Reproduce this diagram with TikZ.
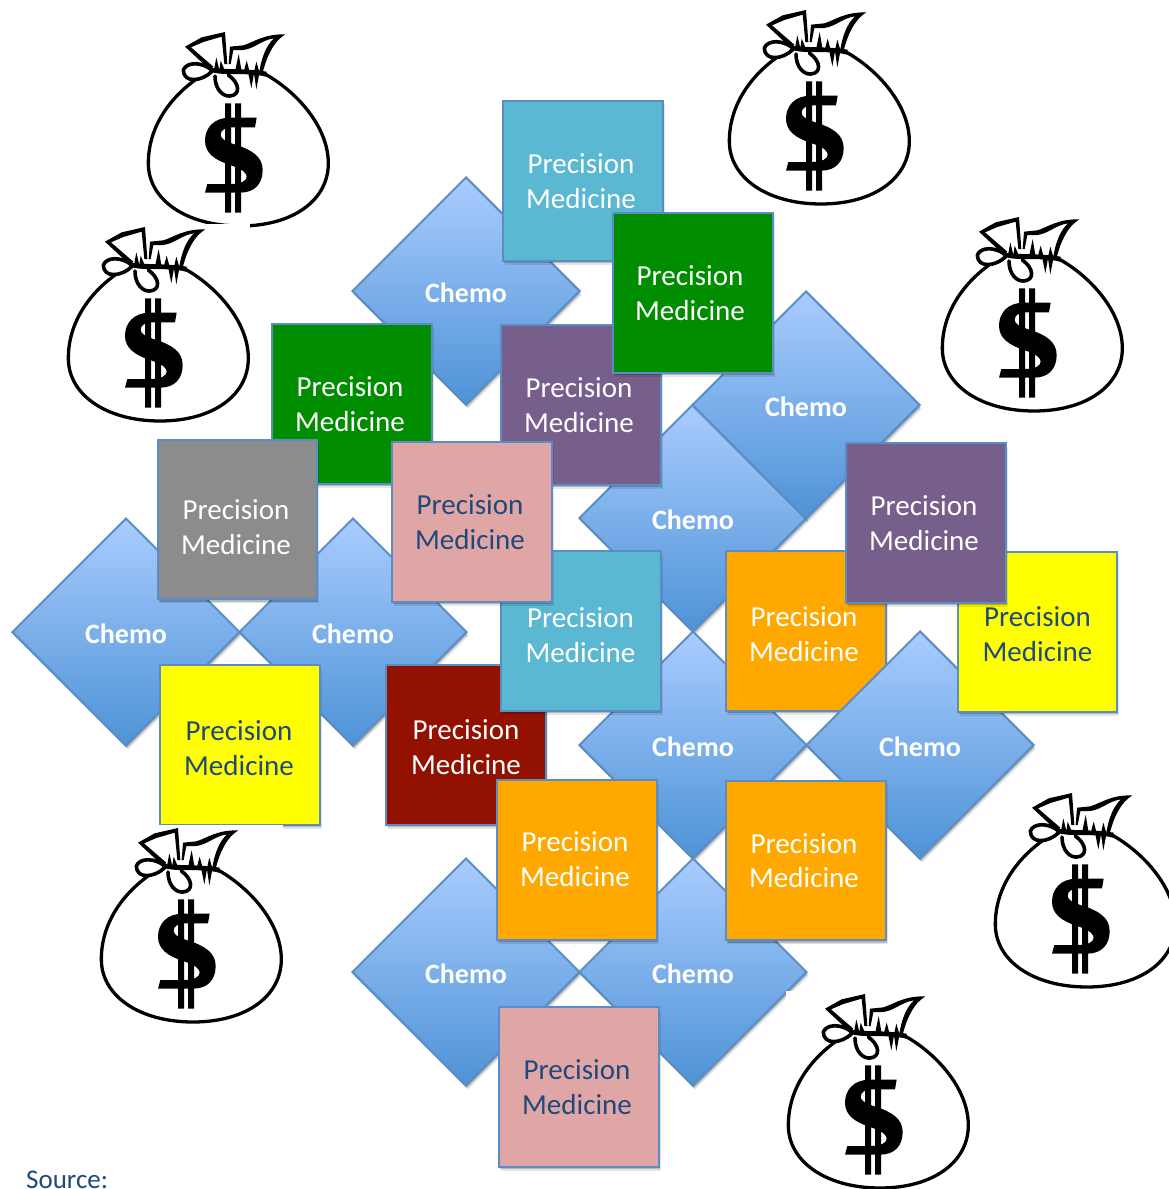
\documentclass[tikz,border=0pt]{standalone}
\usepackage{fontspec}
\setmainfont{Carlito}
\usetikzlibrary{shapes.geometric,shadows}
\definecolor{edgeblue}{HTML}{5B8DC4}
\definecolor{navytext}{HTML}{1F497D}
\definecolor{pmcyan}{HTML}{5BB8D2}
\definecolor{pmgreen}{HTML}{008E00}
\definecolor{pmpurple}{HTML}{775F8C}
\definecolor{pmgray}{HTML}{8C8C8C}
\definecolor{pmpink}{HTML}{E0A6A5}
\definecolor{pmorange}{HTML}{FFA900}
\definecolor{pmyellow}{HTML}{FFFF00}
\definecolor{pmred}{HTML}{921100}
\definecolor{dtop}{HTML}{A9CCFF}
\definecolor{dbot}{HTML}{4E93D6}
\tikzset{
  softshadow/.style={
    drop shadow={shadow xshift=2pt,shadow yshift=-4pt,fill=black,opacity=.10},
    drop shadow={shadow xshift=1pt,shadow yshift=-2.5pt,fill=black,opacity=.20}},
  pmbox/.style={rectangle,draw=edgeblue,line width=2.4pt,minimum width=159.5pt,minimum height=159.5pt,inner sep=0pt,softshadow},
  pmlabel/.style={align=center,inner sep=0pt,font=\fontsize{29}{34.6}\selectfont},
  chemobox/.style={diamond,aspect=1,draw=edgeblue,line width=2pt,minimum width=228pt,minimum height=228pt,inner sep=0pt,
    top color=dtop,bottom color=dbot,softshadow,text=white,font=\fontsize{28}{32}\bfseries\selectfont},
  bagline/.style={draw=black,line width=3.3pt,line cap=round,line join=round,fill=none},
  bagthin/.style={draw=black,line width=2.6pt,line cap=round,line join=round,fill=none},
  pics/moneybag/.style={code={
    \begin{scope}[x=.33333pt,y=-.33333pt]
      \fill[white] (48,27) rectangle (600,627);
      % body
      \draw[bagline] (405,162) .. controls (500,215) and (595,320) .. (595,430)
        .. controls (595,540) and (490,618) .. (330,618)
        .. controls (170,618) and (55,540) .. (55,430)
        .. controls (55,320) and (120,235) .. (195,180);
      % flaps
      \fill (165,80) -- (215,52) -- (285,36) -- (292,132) -- (283,132) -- (275,50) -- (220,66) -- (183,82) -- (250,140) -- (240,150) -- cycle;
      \fill (296,132) -- (300,80) -- (340,76) .. controls (375,65) and (400,42) .. (466,43)
        .. controls (430,65) and (410,110) .. (398,158) -- (388,155)
        .. controls (395,110) and (410,75) .. (432,55)
        .. controls (395,60) and (375,85) .. (340,90) -- (310,90) -- (302,132) -- cycle;
      % ruffles
      \fill (240,143) .. controls (290,150) and (350,145) .. (410,155)
        -- (408,170) .. controls (350,155) and (290,170) .. (238,155) -- cycle;
      \fill (252,150) -- (259,112) -- (268,150) -- cycle;
      \fill (268,150) -- (272,122) -- (284,150) -- cycle;
      \fill (316,150) -- (326,102) -- (334,150) -- cycle;
      \fill (342,152) -- (350,122) -- (358,152) -- cycle;
      \fill (372,156) -- (379,125) -- (388,156) -- cycle;
      \fill (355,160) -- (364,205) -- (372,160) -- cycle;
      \fill (372,160) -- (379,208) -- (388,160) -- cycle;
      % loops
      \draw[bagthin,line width=3.6pt] (245,150) .. controls (215,125) and (170,125) .. (160,150)
        .. controls (160,190) and (215,185) .. (245,155);
      \draw[bagthin,line width=3.6pt] (255,168) .. controls (255,210) and (280,230) .. (300,228)
        .. controls (332,225) and (330,190) .. (295,165);
      % dollar sign
      \fill (285,250) rectangle (303,578) (315,250) rectangle (333,578);
      \fill (380,293) -- (300,293) .. controls (250,293) and (225,325) .. (225,362)
        .. controls (225,400) and (255,420) .. (300,435)
        .. controls (340,448) and (350,460) .. (350,470)
        .. controls (350,482) and (335,492) .. (300,492)
        -- (232,492) -- (225,518) -- (330,518)
        .. controls (375,518) and (398,490) .. (398,450)
        .. controls (398,410) and (365,390) .. (320,375)
        .. controls (285,365) and (272,355) .. (272,345)
        .. controls (272,330) and (285,322) .. (310,322)
        -- (375,322) -- cycle;
    \end{scope}
  }}
}
% name, x, y, fill, text colour, text dx, text dy
\newcommand{\pmnode}[7]{%
  \node[pmbox,fill=#4] (#1) at (#2,#3) {};
  \node[pmlabel,text=#5] (#1-label) at ([shift={(#6,#7)}]#1.center) {Precision\\Medicine};}
\newcommand{\chemonode}[3]{\node[chemobox] (#1) at (#2,#3) {\raisebox{-11pt}[0pt][0pt]{Chemo}};}
\begin{document}
\begin{tikzpicture}[x=1pt,y=-1pt]
\useasboundingbox (0,0) rectangle (1169,1189);
\clip (0,0) rectangle (1169,1189);
\fill[white] (0,0) rectangle (1169,1189);
\chemonode{d1}{466}{291}
\pmnode{cyanA}{583}{181}{pmcyan}{white}{-2}{0}
\chemonode{d3}{693}{518}
\pmnode{purpleA}{581}{405}{pmpurple}{white}{-2}{0}
\chemonode{d2}{806}{405}
\pmnode{greenA}{693}{293}{pmgreen}{white}{-3}{0}
\pmnode{greenB}{352}{404}{pmgreen}{white}{-2}{0}
\chemonode{d4}{126}{632}
\chemonode{d5}{353}{632}
\pmnode{grayA}{237.5}{519.5}{pmgray}{white}{-1.5}{7.5}
\pmnode{yellowB}{240}{745}{pmyellow}{navytext}{-1}{3}
\pmnode{redA}{466}{745}{pmred}{white}{0}{2}
\chemonode{d6}{693}{745}
\pmnode{cyanB}{581}{631}{pmcyan}{white}{-0.5}{4}
\pmnode{pinkA}{472}{522}{pmpink}{navytext}{-2}{0}
\pmnode{orangeA}{806}{631}{pmorange}{white}{-2}{3}
\chemonode{d7}{920}{745}
\pmnode{yellowA}{1037.5}{632}{pmyellow}{navytext}{0}{2}
\pmnode{purpleB}{926}{523}{pmpurple}{white}{-2}{0}
\chemonode{d8}{466}{972}
\chemonode{d9}{693}{972}
\pmnode{orangeB}{577}{860}{pmorange}{white}{-2}{-1}
\pmnode{orangeC}{806}{860.5}{pmorange}{white}{-2}{0}
\pmnode{pinkB}{579}{1087}{pmpink}{navytext}{-2}{0}
\pic at (130,20) {moneybag};
\pic at (711,-2) {moneybag};
\pic at (50,215) {moneybag};
\pic at (924,205) {moneybag};
\pic at (83,816) {moneybag};
\pic at (977,781) {moneybag};
\pic at (770,982) {moneybag};
\node[anchor=base west,inner sep=0pt,text=navytext,font=\fontsize{27}{30}\selectfont] (src) at (26,1188.5) {Source:};
\end{tikzpicture}
\end{document}
